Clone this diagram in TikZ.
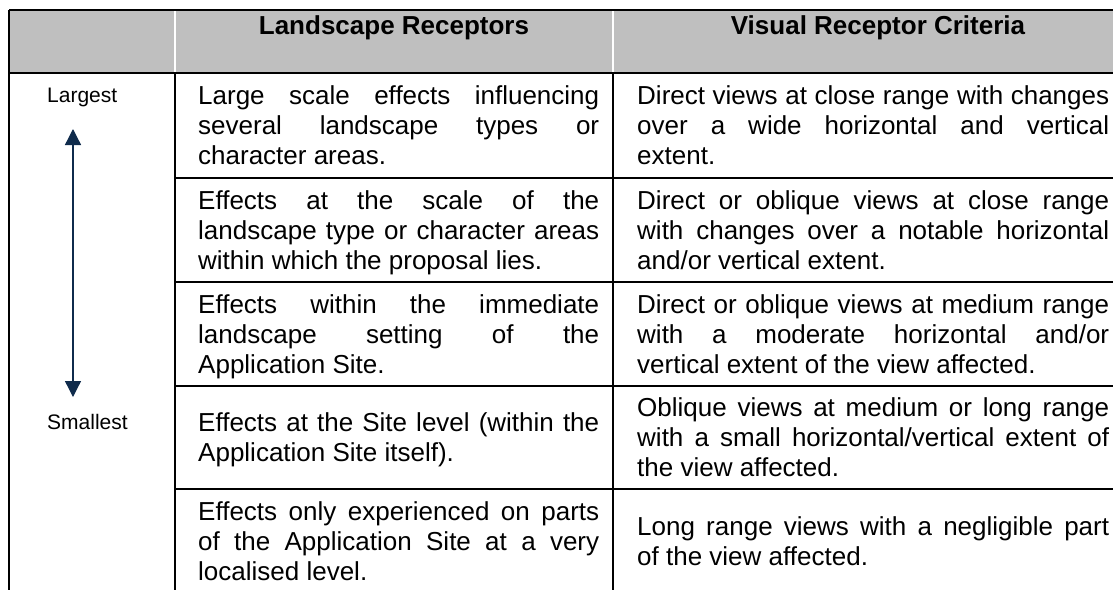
\documentclass[tikz,border=0pt]{standalone}
\usepackage{fontspec}
\setmainfont{Liberation Sans}
\usetikzlibrary{arrows.meta}

\definecolor{hdrgray}{HTML}{BFBFBF}
\definecolor{navy}{HTML}{0F2B4C}
\newcommand\cellstrut{\rule[-6pt]{0pt}{30pt}}
\hyphenpenalty=10000
\tolerance=10000
\hbadness=10000

\begin{document}
\begin{tikzpicture}[
    x=1pt, y=-1pt,
    grid/.style={draw=black, line width=2pt},
    cell/.style={anchor=west, inner sep=0pt, align=justify, font=\fontsize{26pt}{30pt}\selectfont},
    landcell/.style={cell, text width=401pt},
    viscell/.style={cell, text width=472pt},
    head/.style={anchor=base, inner sep=0pt, font=\fontsize{26pt}{30pt}\selectfont\bfseries},
    sizelabel/.style={anchor=base west, inner sep=0pt, font=\fontsize{21pt}{25pt}\selectfont},
    scalearrow/.style={navy, line width=1.3pt, >={Triangle[width=16pt,length=16pt]}, <->}
]
    \useasboundingbox (0,0) rectangle (1113,589);
    \clip (0,0) rectangle (1113,589);

    \fill[hdrgray] (9,10) rectangle (1143,73);
    \draw[white, line width=1.5pt] (175,10) -- (175,73);
    \draw[white, line width=1.5pt] (613,10) -- (613,73);

    \draw[grid] (9,10) -- (1143,10);
    \draw[grid] (9,73) -- (1143,73);
    \draw[grid] (9,10) -- (9,593);
    \draw[grid] (175,73) -- (175,593);
    \draw[grid] (613,73) -- (613,593);
    \draw[grid] (175,178) -- (1143,178);
    \draw[grid] (175,282) -- (1143,282);
    \draw[grid] (175,386) -- (1143,386);
    \draw[grid] (175,489) -- (1143,489);
    \draw[grid] (9,593) -- (1143,593);

    \node[head] (hland) at (394,34) {Landscape Receptors};
    \node[head] (hvis) at (878,34) {Visual Receptor Criteria};

    \node[sizelabel] (largest) at (47,102) {Largest};
    \node[sizelabel] (smallest) at (47,429) {Smallest};
    \coordinate (up) at (73,129);
    \coordinate (down) at (73,397);
    \draw[scalearrow] (down) -- (up);

    \node[landcell] (land1) at (198,125.5) {\cellstrut Large scale effects influencing\linebreak several landscape types or\linebreak character areas.\cellstrut};
    \node[landcell] (land2) at (198,230) {\cellstrut Effects at the scale of the\linebreak landscape type or character areas\linebreak within which the proposal lies.\cellstrut};
    \node[landcell] (land3) at (198,334) {\cellstrut Effects within the immediate\linebreak landscape setting of the\linebreak Application Site.\cellstrut};
    \node[landcell] (land4) at (198,437.5) {\cellstrut Effects at the Site level (within the\linebreak Application Site itself).\cellstrut};
    \node[landcell] (land5) at (198,541) {\cellstrut Effects only experienced on parts\linebreak of the Application Site at a very\linebreak localised level.\cellstrut};

    \node[viscell] (vis1) at (637,125.5) {\cellstrut Direct views at close range with changes\linebreak over a wide horizontal and vertical\linebreak extent.\cellstrut};
    \node[viscell] (vis2) at (637,230) {\cellstrut Direct or oblique views at close range\linebreak with changes over a notable horizontal\linebreak and/or vertical extent.\cellstrut};
    \node[viscell] (vis3) at (637,334) {\cellstrut Direct or oblique views at medium range\linebreak with a moderate horizontal and/or\linebreak vertical extent of the view affected.\cellstrut};
    \node[viscell] (vis4) at (637,437.5) {\cellstrut Oblique views at medium or long range\linebreak with a small horizontal/vertical extent of\linebreak the view affected.\cellstrut};
    \node[viscell] (vis5) at (637,541) {\cellstrut Long range views with a negligible part\linebreak of the view affected.\cellstrut};
\end{tikzpicture}
\end{document}
